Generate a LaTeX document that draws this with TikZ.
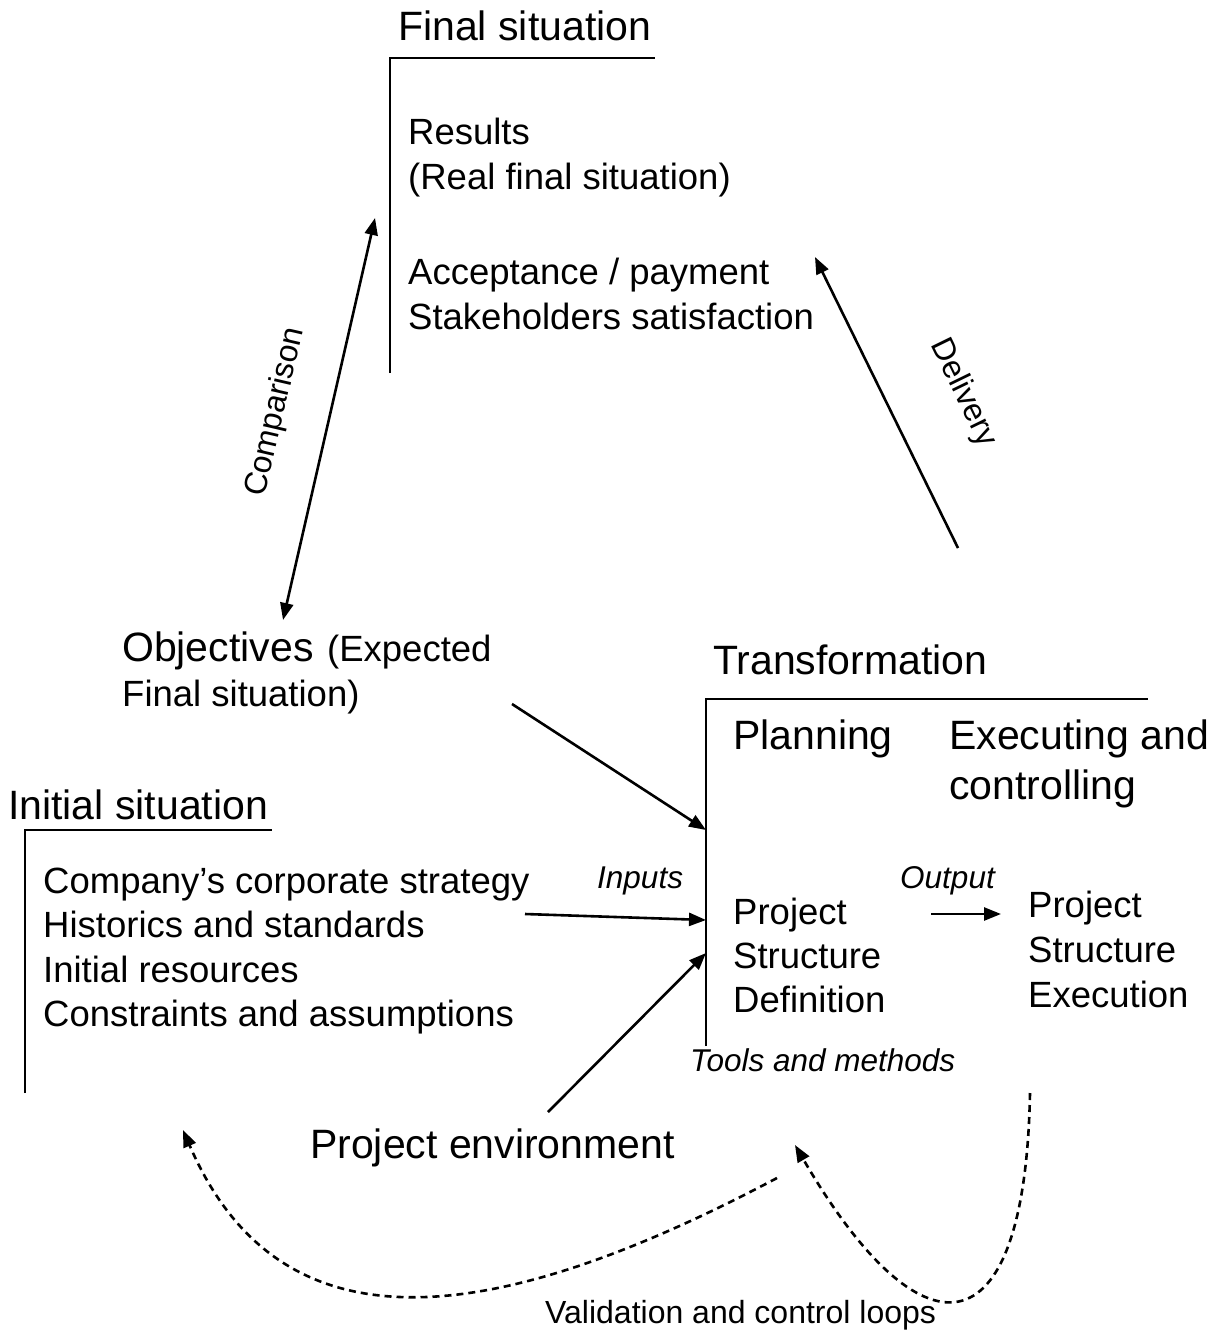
\documentclass[tikz,border=0pt]{standalone}
\usepackage{fontspec}
\setmainfont{Liberation Sans}
\usetikzlibrary{arrows.meta}
\tikzset{
  ttl/.style={anchor=base west, inner sep=0pt, font=\fontsize{41}{48}\selectfont},
  bdy/.style={anchor=base west, inner sep=0pt, font=\fontsize{36.5}{44}\selectfont},
  lbl/.style={anchor=base west, inner sep=0pt, font=\itshape\fontsize{31.5}{38}\selectfont},
  rlbl/.style={inner sep=0pt, font=\fontsize{32}{38}\selectfont},
  vlbl/.style={anchor=base west, inner sep=0pt, font=\fontsize{32}{38}\selectfont},
  brk/.style={line width=1.5pt, line join=miter},
  arr/.style={line width=2.6pt, -{Triangle[length=17pt,width=13pt]}},
  darr/.style={line width=2.6pt, {Triangle[length=17pt,width=13pt]}-{Triangle[length=17pt,width=13pt]}},
  dsh/.style={line width=2.6pt, dash pattern=on 7pt off 5pt, -{Triangle[length=17pt,width=13pt]}},
}
\begin{document}
\begin{tikzpicture}[x=1pt,y=-1pt]
\useasboundingbox[fill=white] (0,0) rectangle (1223,1333);

% ---------- Final situation ----------
\node[ttl] (fsT) at (398,40) {Final situation};
\coordinate (fsB) at (390,373);
\coordinate (fsC) at (390,58);
\coordinate (fsR) at (655,58);
\draw[brk] (fsB) -- (fsC) -- (fsR);
\node[bdy] (res1) at (408,144) {Results};
\node[bdy] (res2) at (408,189) {(Real final situation)};
\node[bdy] (acc1) at (408,284) {Acceptance / payment};
\node[bdy] (acc2) at (408,329) {Stakeholders satisfaction};

% ---------- Objectives ----------
\node[ttl] (objT) at (122,661) {Objectives};
\node[bdy] (objE) at (327,661) {(Expected};
\node[bdy] (objF) at (122,706) {Final situation)};

% ---------- Transformation ----------
\node[ttl] (trT) at (713,674) {Transformation};
\coordinate (trB) at (706,1046);
\coordinate (trC) at (706,699);
\coordinate (trR) at (1148,699);
\draw[brk] (trB) -- (trC) -- (trR);
\node[ttl] (plan) at (733,749) {Planning};
\node[ttl] (exe1) at (949,749) {Executing and};
\node[ttl] (exe2) at (949,799) {controlling};
\node[bdy] (psd1) at (733,924) {Project};
\node[bdy] (psd2) at (733,968) {Structure};
\node[bdy] (psd3) at (733,1012) {Definition};
\node[bdy] (pse1) at (1028,917) {Project};
\node[bdy] (pse2) at (1028,962) {Structure};
\node[bdy] (pse3) at (1028,1007) {Execution};
\node[lbl] (outL) at (900,888) {Output};
\node[lbl] (tools) at (690,1071) {Tools and methods};

% ---------- Initial situation ----------
\node[ttl] (isT) at (8,819) {Initial situation};
\coordinate (isB) at (25,1093);
\coordinate (isC) at (25,830);
\coordinate (isR) at (272,830);
\draw[brk] (isB) -- (isC) -- (isR);
\node[bdy] (is1) at (43,893) {Company’s corporate strategy};
\node[bdy] (is2) at (43,937) {Historics and standards};
\node[bdy] (is3) at (43,982) {Initial resources};
\node[bdy] (is4) at (43,1026) {Constraints and assumptions};
\node[lbl] (inL) at (597,888) {Inputs};

% ---------- Project environment ----------
\node[ttl] (env) at (310,1158) {Project environment};
\node[vlbl] (val) at (545,1323) {Validation and control loops};

% ---------- arrows ----------
\coordinate (cmpA) at (283,620);
\coordinate (cmpB) at (375,218);
\draw[darr] (cmpA) -- (cmpB);
\node[rlbl, rotate=77] (cmpL) at (276,412) {Comparison};

\coordinate (delA) at (958,548);
\coordinate (delB) at (815,257);
\draw[arr] (delA) -- (delB);
\node[rlbl, rotate=-64] (delL) at (963,393) {Delivery};

\coordinate (objA) at (512,704);
\coordinate (objB) at (706,830);
\draw[arr] (objA) -- (objB);

\coordinate (inA) at (525,914);
\coordinate (inB) at (706,920);
\draw[arr] (inA) -- (inB);

\coordinate (envA) at (548,1112);
\coordinate (envB) at (706,953);
\draw[arr] (envA) -- (envB);

\coordinate (outA) at (931,914);
\coordinate (outB) at (1001,914);
\draw[arr] (outA) -- (outB);

% ---------- dashed loops ----------
\coordinate (lpA) at (777,1178);
\coordinate (lpB) at (183,1130);
\draw[dsh] (lpA) .. controls (490,1330) and (280,1355) .. (lpB);
\coordinate (lqA) at (1030,1093);
\coordinate (lqB) at (795,1145);
\draw[dsh] (lqA) .. controls (1025,1360) and (920,1360) .. (lqB);
\end{tikzpicture}
\end{document}
